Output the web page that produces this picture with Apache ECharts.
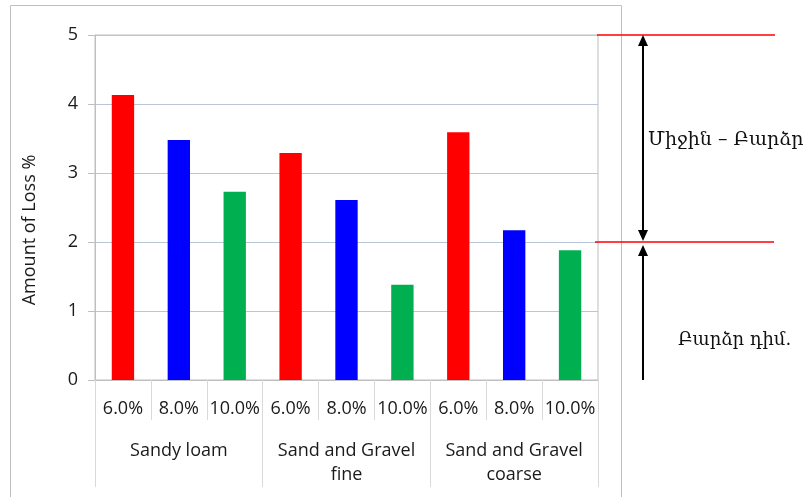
<!DOCTYPE html>
<html>
<head>
<meta charset="utf-8">
<script src="https://cdn.jsdelivr.net/npm/echarts@6/dist/echarts.min.js"></script>
<style>
  html, body { margin: 0; padding: 0; background: #fff; }
  #chart { width: 805px; height: 497px; }
</style>
</head>
<body>
<div id="chart"></div>
<script>
// Soil types (outer category level) and moisture contents (inner level)
const soilGroups = ['Sandy loam', 'Sand and Gravel\nfine', 'Sand and Gravel\ncoarse'];
const moistureLevels = ['6.0%', '8.0%', '10.0%'];
const levelColors = ['#ff0000', '#0000ff', '#00b050'];

// Amount of loss (%) per soil type, in the order 6.0%, 8.0%, 10.0%
const sandyLoam = [4.13, 3.48, 2.73];
const sandGravelFine = [3.29, 2.61, 1.38];
const sandGravelCoarse = [3.59, 2.17, 1.88];

// Y axis range
const yMin = 0, yMax = 5, yStep = 1;

// Band boundaries annotated on the right
const upperBand = 5;
const lowerBand = 2;

const innerCategories = [];
const barData = [];
[sandyLoam, sandGravelFine, sandGravelCoarse].forEach(function (vals) {
  vals.forEach(function (v, i) {
    innerCategories.push(moistureLevels[i]);
    barData.push({ value: v, itemStyle: { color: levelColors[i] } });
  });
});

const chart = echarts.init(document.getElementById('chart'), null, { renderer: 'canvas' });
const font = 'Open Sans, Liberation Sans, sans-serif';

chart.setOption({
  animation: false,
  backgroundColor: '#ffffff',
  grid: {
    left: 95, right: 207, top: 35, bottom: 117,
    show: true, borderColor: '#bfbfbf', borderWidth: 1
  },
  xAxis: [
    {
      type: 'category',
      data: innerCategories,
      axisLine: { show: true, lineStyle: { color: '#bfbfbf' } },
      axisTick: { show: true, interval: 0, length: 40, lineStyle: { color: '#d9d9d9' } },
      axisLabel: { interval: 0, margin: 20, fontSize: 18, color: '#1a1a1a', fontFamily: font }
    },
    {
      type: 'category',
      position: 'bottom',
      data: soilGroups,
      axisLine: { show: false },
      axisTick: { show: true, interval: 0, length: 107, lineStyle: { color: '#d9d9d9' } },
      axisLabel: { interval: 0, margin: 59, fontSize: 18, lineHeight: 24, color: '#1a1a1a', fontFamily: font }
    }
  ],
  yAxis: {
    type: 'value',
    min: yMin, max: yMax, interval: yStep,
    axisLine: { show: true, lineStyle: { color: '#bfbfbf' } },
    axisTick: { show: true, length: 7, lineStyle: { color: '#bfbfbf' } },
    axisLabel: { fontSize: 18, margin: 17, color: '#1a1a1a', fontFamily: font },
    splitLine: { lineStyle: { color: '#b9c5d8' } }
  },
  series: [{
    type: 'bar',
    xAxisIndex: 0,
    data: barData,
    barWidth: '40%'
  }]
});

// Annotation graphics placed from the value axis
const yTop = chart.convertToPixel({ yAxisIndex: 0 }, upperBand);
const yMid = chart.convertToPixel({ yAxisIndex: 0 }, lowerBand);
const yBase = chart.convertToPixel({ yAxisIndex: 0 }, yMin);
const ax = 643;
const headW = 5, headH = 11;

chart.setOption({
  graphic: [
    // outer frame
    { type: 'rect', shape: { x: 10.5, y: 5.5, width: 611, height: 500 },
      style: { fill: 'none', stroke: '#bfbfbf', lineWidth: 1 }, silent: true, z: -10 },
    // axis title
    { type: 'text', x: 30, y: 230, rotation: Math.PI / 2,
      style: { text: 'Amount of Loss %', font: '18px ' + font, fill: '#1a1a1a',
               textAlign: 'center', textVerticalAlign: 'middle' } },
    // band boundaries
    { type: 'line', shape: { x1: 597, y1: yTop, x2: 775, y2: yTop }, style: { stroke: '#ff0000', lineWidth: 1.5 } },
    { type: 'line', shape: { x1: 595, y1: yMid, x2: 774, y2: yMid }, style: { stroke: '#ff0000', lineWidth: 1.5 } },
    // double arrow between the boundaries
    { type: 'line', shape: { x1: ax, y1: yTop + headH, x2: ax, y2: yMid - headH }, style: { stroke: '#000', lineWidth: 2 } },
    { type: 'polygon', shape: { points: [[ax, yTop], [ax - headW, yTop + headH], [ax + headW, yTop + headH]] }, style: { fill: '#000' } },
    { type: 'polygon', shape: { points: [[ax, yMid - 1], [ax - headW, yMid - 1 - headH], [ax + headW, yMid - 1 - headH]] }, style: { fill: '#000' } },
    // single arrow from the base up to the lower boundary
    { type: 'line', shape: { x1: ax, y1: yBase, x2: ax, y2: yMid + 3 + headH }, style: { stroke: '#000', lineWidth: 2 } },
    { type: 'polygon', shape: { points: [[ax, yMid + 3], [ax - headW, yMid + 3 + headH], [ax + headW, yMid + 3 + headH]] }, style: { fill: '#000' } },
    // band labels
    { type: 'text', x: 648, y: (yTop + yMid) / 2 + 2,
      style: { text: 'Միջին – Բարձր', font: '19px DejaVu Serif, serif', fill: '#111', textVerticalAlign: 'middle' } },
    { type: 'text', x: 678, y: yBase - 40,
      style: { text: 'Բարձր դիմ.', font: '18px DejaVu Serif, serif', fill: '#111', textVerticalAlign: 'middle' } }
  ]
});
</script>
</body>
</html>
